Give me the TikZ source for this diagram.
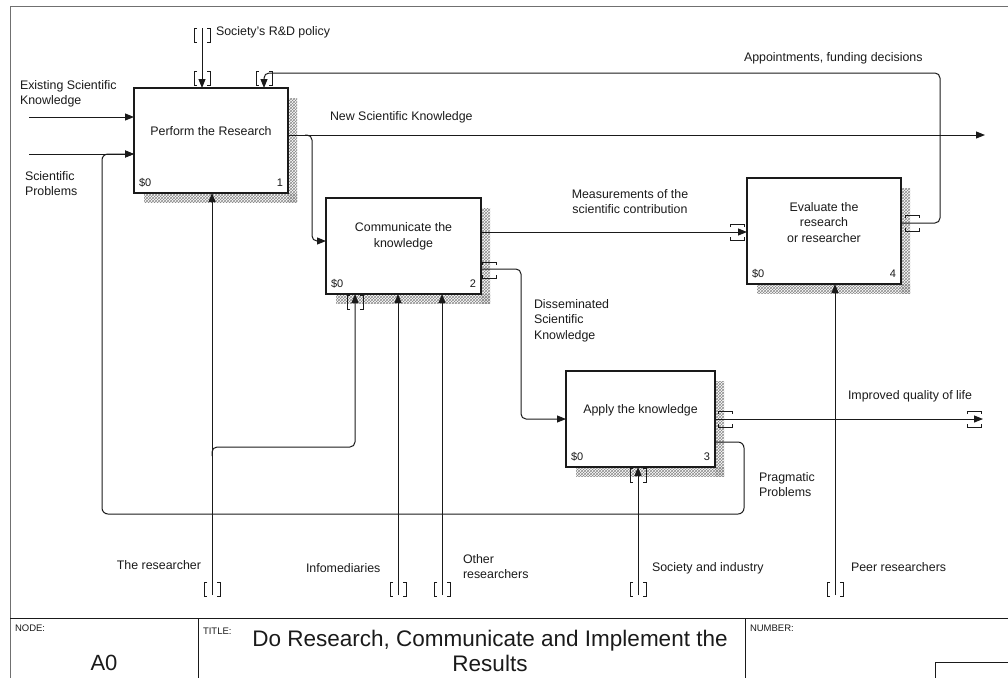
\documentclass[tikz,border=0pt]{standalone}
\usepackage{fontspec}
\setmainfont{Liberation Sans}
\usetikzlibrary{arrows.meta,patterns,calc,backgrounds}
\definecolor{ink}{HTML}{1A1A1A}
\definecolor{framegray}{HTML}{707070}
\definecolor{hatch}{HTML}{8A8A8A}
\begin{document}
\begin{tikzpicture}[x=1pt,y=-1pt,
  every node/.style={inner sep=0pt, outer sep=0pt},
  lbl/.style={font=\fontsize{12.4}{15.5}\selectfont, align=left, text=ink},
  boxtxt/.style={font=\fontsize{12.4}{15.5}\selectfont, align=center, text=ink},
  idx/.style={font=\fontsize{11}{13}\selectfont, text=ink},
  fnbox/.style={draw=ink, fill=white, line width=2.2pt},
  arr/.style={draw=ink, line width=1pt, -{Triangle[length=9pt,width=7pt]}},
  tunnel/.style={draw=ink, line width=1pt},
  shade/.style={pattern=crosshatch, pattern color=hatch},
  vtun/.pic={\draw[tunnel] (-5,-7) -- (-8,-7) -- (-8,7) -- (-5,7) (5,-7) -- (8,-7) -- (8,7) -- (5,7);},
  htun/.pic={\draw[tunnel] (-7,-5) -- (-7,-8) -- (7,-8) -- (7,-5) (-7,5) -- (-7,8) -- (7,8) -- (7,5);}
]
\useasboundingbox (0,0) rectangle (1008,678);

% sheet frame and title block
\draw[framegray, line width=1pt] (1008,6) -- (10,6) -- (10,678);
\draw[ink, line width=1pt] (10,618) -- (1008,618);
\draw[ink, line width=1pt] (198,618) -- (198,678) (745,618) -- (745,678);
\draw[ink, line width=1pt] (1008,662) -- (935,662) -- (935,678);
\node[anchor=north west, font=\fontsize{9.5}{11}\selectfont, text=ink] (nodelbl) at (15,625) {NODE:};
\node[anchor=north west, font=\fontsize{9.5}{11}\selectfont, text=ink] (titlelbl) at (203,628) {TITLE:};
\node[anchor=north west, font=\fontsize{9.5}{11}\selectfont, text=ink] (numlbl) at (750,625) {NUMBER:};
\node[font=\fontsize{22}{25}\selectfont, text=ink] (a0) at (104,663) {A0};
\node[font=\fontsize{22.5}{25}\selectfont, align=center, text=ink] (title) at (490,651) {Do Research, Communicate and Implement the\\Results};

% activity boxes
\node[fnbox, minimum width=154pt, minimum height=105pt] (b1) at (211,140.5) {};
\node[fnbox, minimum width=155pt, minimum height=96pt] (b2) at (403.5,246) {};
\node[fnbox, minimum width=149pt, minimum height=96pt] (b3) at (640.5,419) {};
\node[fnbox, minimum width=154pt, minimum height=106pt] (b4) at (824,231) {};

\begin{scope}[on background layer]
  \foreach \b in {b1,b2,b3,b4}{
    \fill[shade] ($(\b.north east)+(0,10)$) rectangle ($(\b.south east)+(9,9)$);
    \fill[shade] ($(\b.south west)+(10,0)$) rectangle ($(\b.south east)+(9,9)$);
  }
\end{scope}

\node[boxtxt] (t1) at ($(b1.center)+(0,-9.5)$) {Perform the Research};
\node[boxtxt] (t2) at ($(b2.center)+(0,-9.5)$) {Communicate the\\knowledge};
\node[boxtxt] (t3) at ($(b3.center)+(0,-9)$) {Apply the knowledge};
\node[boxtxt] (t4) at ($(b4.center)+(0,-8.5)$) {Evaluate the\\research\\or researcher};

\foreach \b/\n in {b1/1,b2/2,b3/3,b4/4}{
  \node[idx, anchor=west] at ($(\b.south west)+(5,-10)$) {\$0};
  \node[idx, anchor=east] at ($(\b.south east)+(-5,-10)$) {\n};
}

% free ends of the boundary arrows
\coordinate (ek) at (29,117);
\coordinate (sp) at (29,154);
\coordinate (rd) at (202,28);
\coordinate (nsk) at (985,135);
\coordinate (iql) at (983,419);
\coordinate (res) at (212,595);
\coordinate (info) at (398,595);
\coordinate (oth) at (442,595);
\coordinate (soc) at (638,595);
\coordinate (peer) at (835,595);

% inputs and controls of box 1
\draw[arr] (ek) -- (ek -| b1.west);
\draw[arr] (sp) -- (sp -| b1.west);
\draw[arr] (rd) -- (rd |- b1.north);
\pic at (202,35) {vtun};
\pic at (202,78) {vtun};

% feedback: appointments and funding decisions
\draw[arr, rounded corners=5] (b4.east |- 0,223) -| (940,73) -| (264,0 |- b1.north);
\pic at (264,78) {vtun};

% new scientific knowledge and its branch into box 2
\draw[arr] (nsk -| b1.east) -- (nsk);
\draw[arr, rounded corners=5] (305,135) -- (312,135) |- (b2.west |- 0,241);

% measurements into box 4
\draw[arr] (b2.east |- 0,232) -- (b4.west |- 0,232);
\pic at (737,232) {htun};
\pic at (912,223) {htun};

% disseminated knowledge into box 3
\draw[arr, rounded corners=5] (b2.east |- 0,269) -| (521,419) -- (b3.west |- 0,419);
\pic at (489.5,270) {htun};

% improved quality of life
\draw[arr] (iql -| b3.east) -- (iql);
\pic at (725.5,419) {htun};
\pic at (974.5,419) {htun};

% pragmatic problems fed back to box 1
\draw[arr, rounded corners=6] (b3.east |- 0,442) -| (744,514) -| (102,154) -- (sp -| b1.west);

% mechanisms
\draw[arr] (res) -- (res |- b1.south);
\draw[arr, rounded corners=5] (212,456) -- (212,447) -| (355,0 |- b2.south);
\pic at (355,302) {vtun};
\draw[arr] (info) -- (info |- b2.south);
\draw[arr] (oth) -- (oth |- b2.south);
\draw[arr] (soc) -- (soc |- b3.south);
\pic at (638,475) {vtun};
\draw[arr] (peer) -- (peer |- b4.south);
\foreach \c in {res,info,oth,soc,peer}{
  \pic at ($(\c)+(0,-6)$) {vtun};
}

% arrow labels
\node[lbl, anchor=north west] (lesk) at (20,80.5) {Existing Scientific\\Knowledge};
\node[lbl, anchor=north west] (lsp) at (25,171.5) {Scientific\\Problems};
\node[lbl, anchor=north west] (lrd) at (216,26.5) {Society's R\&D policy};
\node[lbl, anchor=north west] (lnsk) at (330,111.5) {New Scientific Knowledge};
\node[lbl, anchor=north west] (lapp) at (744,52.5) {Appointments, funding decisions};
\node[lbl, align=center, anchor=north] (lmea) at (630,189.5) {Measurements of the\\scientific contribution};
\node[lbl, anchor=north west] (ldis) at (534,299.5) {Disseminated\\Scientific\\Knowledge};
\node[lbl, anchor=north west] (liql) at (848,390.5) {Improved quality of life};
\node[lbl, anchor=north west] (lpp) at (759,472.5) {Pragmatic\\Problems};
\node[lbl, anchor=north east] (lres) at (201,560.5) {The researcher};
\node[lbl, anchor=north west] (linfo) at (306,563.5) {Infomediaries};
\node[lbl, anchor=north west] (loth) at (463,554.5) {Other\\researchers};
\node[lbl, anchor=north west] (lsoc) at (652,562.5) {Society and industry};
\node[lbl, anchor=north west] (lpeer) at (851,562.5) {Peer researchers};
\end{tikzpicture}
\end{document}
